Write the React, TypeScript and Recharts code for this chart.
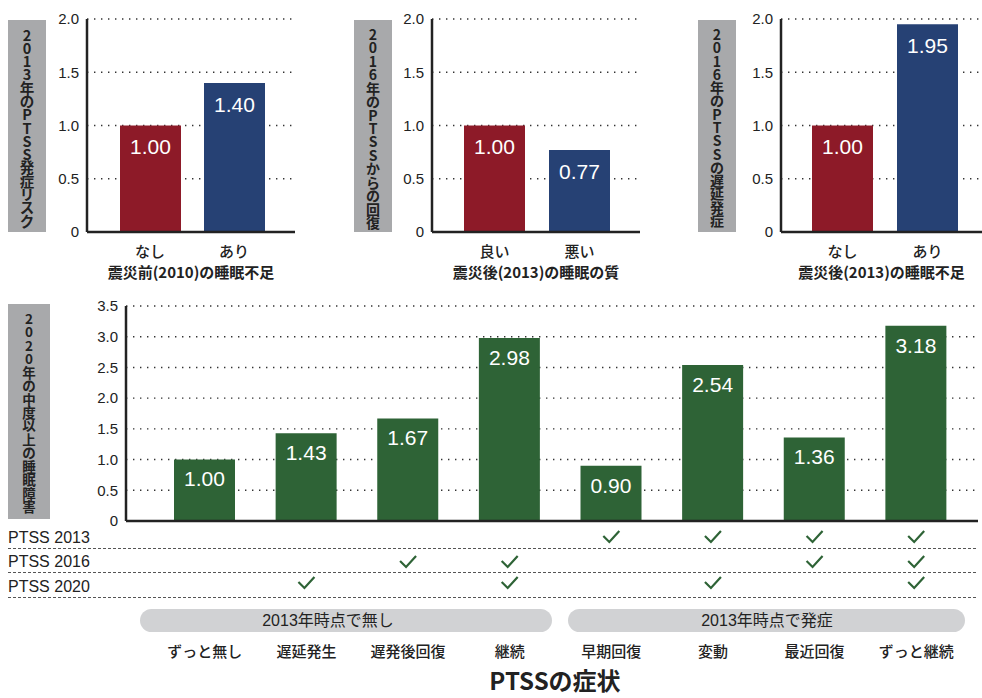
import React from "react";
import { BarChart, Bar, XAxis, YAxis, CartesianGrid, LabelList, Cell } from "recharts";

// small panels
const panel1Cats = ["なし", "あり"];
const panel1Values = [1.0, 1.4];
const panel2Cats = ["良い", "悪い"];
const panel2Values = [1.0, 0.77];
const panel3Cats = ["なし", "あり"];
const panel3Values = [1.0, 1.95];
const panelTitles = ["震災前(2010)の睡眠不足", "震災後(2013)の睡眠の質", "震災後(2013)の睡眠不足"];
const panelYLabels = ["2013年のPTSS発症リスク", "2016年のPTSSからの回復", "2016年のPTSSの遅延発症"];
const smallTicks = [0, 0.5, 1, 1.5, 2];

// big panel
const symptomCats = ["ずっと無し", "遅延発生", "遅発後回復", "継続", "早期回復", "変動", "最近回復", "ずっと継続"];
const symptomValues = [1.0, 1.43, 1.67, 2.98, 0.9, 2.54, 1.36, 3.18];
const ptss2013 = [false, false, false, false, true, true, true, true];
const ptss2016 = [false, false, true, true, false, false, true, true];
const ptss2020 = [false, true, false, true, false, true, false, true];
const rowLabels = ["PTSS 2013", "PTSS 2016", "PTSS 2020"];
const groupLabels = ["2013年時点で無し", "2013年時点で発症"];
const bigYLabel = "2020年の中度以上の睡眠障害";
const bigTicks = [0, 0.5, 1, 1.5, 2, 2.5, 3, 3.5];
const mainTitle = "PTSSの症状";

const RED = "#8d1a28";
const BLUE = "#264174";
const GREEN = "#2e6336";
const CJK = "'Noto Sans CJK JP', sans-serif";
const LATIN = "'Liberation Sans', Arial, 'Noto Sans CJK JP', sans-serif";

const fmtTick = (v: number) => (v === 0 ? "0" : v.toFixed(1));

const CatTick = (props: any) => {
  const { x, y, payload } = props;
  return (
    <text x={x} y={y + 18} textAnchor="middle" dominantBaseline="central" fontSize={15} fontWeight={500} fill="#222" fontFamily={CJK}>
      {payload.value}
    </text>
  );
};

const checkRows = [ptss2013, ptss2016, ptss2020];
const checkOffsets = [16, 41, 62];

const SymptomTick = (props: any) => {
  const { x, y, payload, index } = props;
  return (
    <g>
      {checkRows.map((row, i) =>
        row[index] ? (
          <path
            key={i}
            d={`M${x - 8},${y + checkOffsets[i] - 1} L${x - 2},${y + checkOffsets[i] + 5} L${x + 8},${y + checkOffsets[i] - 6}`}
            fill="none"
            stroke={GREEN}
            strokeWidth={2.2}
          />
        ) : null
      )}
      <text x={x} y={y + 129} textAnchor="middle" dominantBaseline="central" fontSize={15} fontWeight={500} fill="#222" fontFamily={CJK}>
        {payload.value}
      </text>
    </g>
  );
};

// gray box with one upright character per line
const VLabel = ({ text, left, top, width, height, fontSize, first, last }: any) => {
  const chars = Array.from(text as string);
  const step = (last - first) / (chars.length - 1);
  const xs = chars.map(() => width / 2).join(" ");
  const ys = chars.map((_, i) => (first + i * step).toFixed(1)).join(" ");
  return (
    <svg style={{ position: "absolute", left, top }} width={width} height={height}>
      <rect width={width} height={height} fill="#a8a9ab" />
      <text x={xs} y={ys} textAnchor="middle" dominantBaseline="central" fontFamily={CJK} fontWeight={700} fontSize={fontSize} fill="#222">
        {text}
      </text>
    </svg>
  );
};

function SmallPanel({ cats, values, title, left, width, right, padL, padR }: any) {
  const data = cats.map((c: string, i: number) => ({ name: c, value: values[i] }));
  return (
    <div style={{ position: "absolute", left, top: 0 }}>
      <BarChart width={width} height={290} data={data} margin={{ top: 19, right, bottom: 0, left: 0 }}>
        <CartesianGrid vertical={false} stroke="#333" strokeDasharray="1.4 5.6" strokeWidth={1.4} />
        <XAxis
          dataKey="name"
          height={58}
          padding={{ left: padL, right: padR }}
          axisLine={{ stroke: "#222", strokeWidth: 2.5 }}
          tickLine={false}
          tickSize={0}
          tickMargin={0}
          interval={0}
          tick={<CatTick />}
          label={{ value: title, position: "insideBottom", offset: 12, fontSize: 15, fontWeight: 700, fill: "#222", fontFamily: CJK }}
        />
        <YAxis
          width={87}
          domain={[0, 2]}
          ticks={smallTicks}
          tickFormatter={fmtTick}
          axisLine={{ stroke: "#222", strokeWidth: 2.5 }}
          tickLine={false}
          tickSize={0}
          tickMargin={8}
          tick={{ fill: "#222", fontSize: 15 }}
        />
        <Bar dataKey="value" barSize={61} isAnimationActive={false}>
          {data.map((_: any, i: number) => (
            <Cell key={i} fill={i === 0 ? RED : BLUE} />
          ))}
          <LabelList dataKey="value" position="insideTop" offset={14} fill="#fff" fontSize={21} formatter={(v: any) => Number(v).toFixed(2)} />
        </Bar>
      </BarChart>
    </div>
  );
}

export default function App() {
  const bigData = symptomCats.map((c, i) => ({ name: c, value: symptomValues[i] }));
  const rowTops = [529, 553, 578];
  const lineTops = [548, 572, 597];
  return (
    <div style={{ position: "absolute", left: 0, top: 0, width: 982, height: 698, background: "#fff", fontFamily: LATIN, overflow: "hidden" }}>
      <SmallPanel cats={panel1Cats} values={panel1Values} title={panelTitles[0]} left={0} width={300} right={5} padL={21} padR={19} />
      <SmallPanel cats={panel2Cats} values={panel2Values} title={panelTitles[1]} left={345} width={300} right={5} padL={20} padR={18} />
      <SmallPanel cats={panel3Cats} values={panel3Values} title={panelTitles[2]} left={694} width={288} right={0} padL={19} padR={12} />

      <VLabel text={panelYLabels[0]} left={8} top={20} width={38} height={212} fontSize={14.5} first={14} last={200} />
      <VLabel text={panelYLabels[1]} left={354} top={20} width={38} height={212} fontSize={14} first={14} last={202} />
      <VLabel text={panelYLabels[2]} left={698} top={20} width={38} height={212} fontSize={14} first={14} last={200} />
      <VLabel text={bigYLabel} left={8} top={304} width={42} height={215} fontSize={13.5} first={14} last={202} />

      {lineTops.map((t, i) => (
        <div key={i} style={{ position: "absolute", left: 8, top: t, width: 968, borderTop: "1px dashed #555" }} />
      ))}
      {rowLabels.map((t, i) => (
        <div key={t} style={{ position: "absolute", left: 8, top: rowTops[i], fontSize: 16, lineHeight: "18px", color: "#222" }}>
          {t}
        </div>
      ))}

      <div style={{ position: "absolute", left: 140, top: 609, width: 412, height: 23, borderRadius: 12, background: "#d1d2d4" }} />
      <div style={{ position: "absolute", left: 568, top: 609, width: 397, height: 23, borderRadius: 12, background: "#d1d2d4" }} />
      <div style={{ position: "absolute", left: 228, width: 200, top: 609, height: 23, lineHeight: "23px", textAlign: "center", fontSize: 16, color: "#222", fontFamily: LATIN }}>
        {groupLabels[0]}
      </div>
      <div style={{ position: "absolute", left: 667, width: 200, top: 609, height: 23, lineHeight: "23px", textAlign: "center", fontSize: 16, color: "#222", fontFamily: LATIN }}>
        {groupLabels[1]}
      </div>

      <div style={{ position: "absolute", left: 0, top: 290 }}>
        <BarChart width={982} height={408} data={bigData} margin={{ top: 16, right: 4, bottom: 0, left: 0 }}>
          <CartesianGrid vertical={false} stroke="#333" strokeDasharray="1.4 5.6" strokeWidth={1.4} />
          <XAxis
            dataKey="name"
            height={177}
            padding={{ left: 28, right: 11 }}
            axisLine={{ stroke: "#222", strokeWidth: 2.5 }}
            tickLine={false}
            tickSize={0}
            tickMargin={0}
            interval={0}
            tick={<SymptomTick />}
          />
          <YAxis
            width={126}
            domain={[0, 3.5]}
            ticks={bigTicks}
            tickFormatter={fmtTick}
            axisLine={{ stroke: "#222", strokeWidth: 2.5 }}
            tickLine={false}
            tickSize={0}
            tickMargin={8}
            tick={{ fill: "#222", fontSize: 15 }}
          />
          <Bar dataKey="value" fill={GREEN} barSize={61} isAnimationActive={false}>
            <LabelList dataKey="value" position="insideTop" offset={12} fill="#fff" fontSize={21} formatter={(v: any) => Number(v).toFixed(2)} />
          </Bar>
        </BarChart>
      </div>

      <div style={{ position: "absolute", left: 455, width: 200, top: 662, textAlign: "center", fontFamily: CJK, fontWeight: 700, fontSize: 24, lineHeight: "normal", color: "#222" }}>
        {mainTitle}
      </div>
    </div>
  );
}
